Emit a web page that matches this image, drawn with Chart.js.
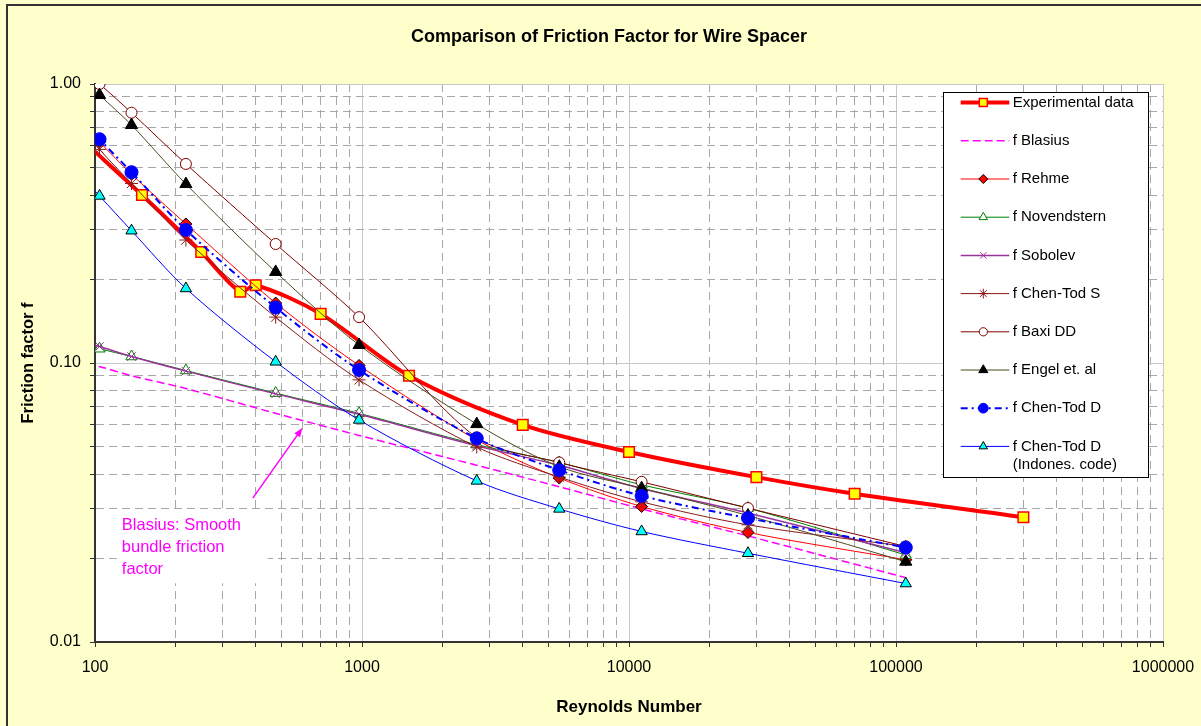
<!DOCTYPE html>
<html>
<head>
<meta charset="utf-8">
<title>Comparison of Friction Factor for Wire Spacer</title>
<script src="https://cdn.jsdelivr.net/npm/chart.js@4.4.1/dist/chart.umd.min.js"></script>
<style>
  html, body { margin: 0; padding: 0; background: #FFFFCC; }
  canvas { display: block; }
</style>
</head>
<body>
<canvas id="frictionChart" width="1201" height="726"></canvas>
<script>
// Reynolds numbers of the correlation curves (first one sits just left of the axis)
const modelRe = [93, 104, 137, 219, 475, 975, 2690, 5480, 11150, 27900, 108800];

// Measured points
const expRe = [93, 150, 250, 350, 400, 700, 1500, 4000, 10000, 30000, 70000, 300000];
const expF  = [0.61, 0.40, 0.25, 0.18, 0.19, 0.15, 0.09, 0.060, 0.048, 0.039, 0.034, 0.028];

// Correlations, friction factor at modelRe
const blasiusF     = [0.098, 0.097, 0.090, 0.081, 0.066, 0.055, 0.043, 0.036, 0.030, 0.024, 0.017];
const rehmeF       = [0.694, 0.620, 0.475, 0.315, 0.164, 0.098, 0.053, 0.0387, 0.0306, 0.0247, 0.0197];
const novendsternF = [0.116, 0.1125, 0.1055, 0.094, 0.078, 0.066, 0.051, 0.044, 0.0366, 0.0302, 0.0205];
const sobolevF     = [0.118, 0.1146, 0.1055, 0.0935, 0.0775, 0.0655, 0.0505, 0.043, 0.0355, 0.029, 0.0209];
const chenTodSF    = [0.675, 0.583, 0.44, 0.276, 0.146, 0.087, 0.050, 0.039, 0.0318, 0.0263, 0.022];
const baxiF        = [1.09, 1.00, 0.789, 0.517, 0.267, 0.146, 0.054, 0.044, 0.0375, 0.0302, 0.022];
const engelF       = [1.01, 0.913, 0.713, 0.438, 0.212, 0.116, 0.0604, 0.0425, 0.0356, 0.0284, 0.0194];
const chenTodDF    = [0.723, 0.634, 0.483, 0.300, 0.158, 0.0944, 0.0537, 0.0413, 0.0334, 0.0278, 0.0218];
const indonesF     = [0.445, 0.397, 0.298, 0.185, 0.101, 0.0625, 0.0378, 0.030, 0.0249, 0.0208, 0.0162];

// Axis decades and their labels
const xDecades = [100, 1000, 10000, 100000, 1000000];
const xTickLabels = ['100', '1000', '10000', '100000', '1000000'];
const yDecades = [0.01, 0.1, 1];
const yTickLabels = ['0.01', '0.10', '1.00'];

// Note with arrow pointing at the Blasius curve
const blasiusNote = ['Blasius: Smooth', 'bundle friction', 'factor'];
const blasiusNoteAt = { re: 126, f: 0.0262 };
const blasiusArrow = { fromRe: 390, fromF: 0.0328, toRe: 598, toF: 0.0585 };

const FONT = 'Arial, "Liberation Sans", sans-serif';

const series = [
  { text: ['Experimental data'], re: expRe, f: expF, color: '#FF0000', width: 4,
    style: 'rect', radius: 7.5, fill: '#FFFF00', edge: '#FF0000', edgeWidth: 1.5 },
  { text: ['f Blasius'], re: modelRe, f: blasiusF, color: '#FF00FF', width: 1.5, dash: [8, 4],
    style: 'circle', radius: 0 },
  { text: ['f Rehme'], re: modelRe, f: rehmeF, color: '#FF0000', width: 1,
    style: 'rectRot', radius: 6, fill: '#FF0000', edge: '#000000', edgeWidth: 1 },
  { text: ['f Novendstern'], re: modelRe, f: novendsternF, color: '#008000', width: 1,
    style: 'triangle', radius: 6.5, fill: '#FFFFFF', edge: '#008000', edgeWidth: 1 },
  { text: ['f Sobolev'], re: modelRe, f: sobolevF, color: '#993399', width: 1.5,
    style: 'crossRot', radius: 6, fill: '#993399', edge: '#993399', edgeWidth: 1 },
  { text: ['f Chen-Tod S'], re: modelRe, f: chenTodSF, color: '#8B1A1A', width: 1,
    style: 'star', radius: 6.5, fill: '#8B1A1A', edge: '#8B1A1A', edgeWidth: 1 },
  { text: ['f Baxi DD'], re: modelRe, f: baxiF, color: '#800000', width: 1,
    style: 'circle', radius: 5.5, fill: '#FFFFFF', edge: '#800000', edgeWidth: 1 },
  { text: ['f Engel et. al'], re: modelRe, f: engelF, color: '#4B4B1E', width: 1,
    style: 'triangle', radius: 7, fill: '#000000', edge: '#000000', edgeWidth: 1 },
  { text: ['f Chen-Tod D'], re: modelRe, f: chenTodDF, color: '#0000FF', width: 2, dash: [7, 4, 2, 4],
    style: 'circle', radius: 6.5, fill: '#0000FF', edge: '#0000FF', edgeWidth: 1 },
  { text: ['f Chen-Tod D', '(Indones. code)'], re: modelRe, f: indonesF, color: '#0000FF', width: 1,
    style: 'triangle', radius: 6.5, fill: '#00FFFF', edge: '#000000', edgeWidth: 1 }
];

function logTicks(decades) {
  const out = [];
  for (let i = 0; i < decades.length - 1; i++) {
    for (let k = 1; k <= 9; k++) out.push(+(decades[i] * k).toPrecision(6));
  }
  out.push(decades[decades.length - 1]);
  return out;
}
const xTicks = logTicks(xDecades);
const yTicks = logTicks(yDecades);

function decadeIndex(v, decades) {
  return decades.findIndex(d => Math.abs(v - d) / d < 1e-9);
}
function gridColor(ctx, decades) {
  if (!ctx.tick) return '#C0C0C0';
  return decadeIndex(ctx.tick.value, decades) >= 0 ? '#C8C8C8' : '#A8A8A8';
}
function gridDash(ctx, decades) {
  if (!ctx.tick) return [];
  return decadeIndex(ctx.tick.value, decades) >= 0 ? [] : [8, 5];
}
function noLabelPadding(s) {
  s.paddingLeft = 0;
  s.paddingRight = 0;
  s.paddingTop = 0;
  s.paddingBottom = 0;
}

const framePlugin = {
  id: 'frame',
  beforeDraw(chart) {
    const {ctx, chartArea, width, height} = chart;
    ctx.save();
    ctx.fillStyle = '#FFFFCC';
    ctx.fillRect(0, 0, width, height);
    ctx.fillStyle = '#FFFFFF';
    ctx.fillRect(chartArea.left, chartArea.top, chartArea.right - chartArea.left, chartArea.bottom - chartArea.top);
    ctx.strokeStyle = '#333333';
    ctx.lineWidth = 2;
    ctx.beginPath();
    ctx.moveTo(7, height);
    ctx.lineTo(7, 5);
    ctx.lineTo(width, 5);
    ctx.stroke();
    ctx.fillStyle = '#000000';
    ctx.font = 'bold 18px ' + FONT;
    ctx.textAlign = 'center';
    ctx.textBaseline = 'middle';
    ctx.fillText('Comparison of Friction Factor for Wire Spacer', 609, 37);
    ctx.restore();
  },
  afterDraw(chart) {
    const {ctx, chartArea, scales} = chart;
    ctx.save();

    // Blasius note
    const nx = scales.x.getPixelForValue(blasiusNoteAt.re);
    const ny = scales.y.getPixelForValue(blasiusNoteAt.f);
    ctx.fillStyle = '#FFFFFF';
    ctx.fillRect(nx - 5, ny - 14, 151, 72);
    ctx.fillStyle = '#FF00FF';
    ctx.font = '16.5px ' + FONT;
    ctx.textAlign = 'left';
    ctx.textBaseline = 'middle';
    blasiusNote.forEach((t, k) => ctx.fillText(t, nx, ny + k * 22.2));

    const ax = scales.x.getPixelForValue(blasiusArrow.fromRe);
    const ay = scales.y.getPixelForValue(blasiusArrow.fromF);
    const bx = scales.x.getPixelForValue(blasiusArrow.toRe);
    const by = scales.y.getPixelForValue(blasiusArrow.toF);
    const ang = Math.atan2(by - ay, bx - ax);
    ctx.strokeStyle = '#FF00FF';
    ctx.lineWidth = 1.5;
    ctx.beginPath();
    ctx.moveTo(ax, ay);
    ctx.lineTo(bx - 6 * Math.cos(ang), by - 6 * Math.sin(ang));
    ctx.stroke();
    ctx.beginPath();
    ctx.moveTo(bx, by);
    ctx.lineTo(bx - 9 * Math.cos(ang) + 3.5 * Math.sin(ang), by - 9 * Math.sin(ang) - 3.5 * Math.cos(ang));
    ctx.lineTo(bx - 9 * Math.cos(ang) - 3.5 * Math.sin(ang), by - 9 * Math.sin(ang) + 3.5 * Math.cos(ang));
    ctx.closePath();
    ctx.fillStyle = '#FF00FF';
    ctx.fill();

    // Legend box inside the plot area
    const left = chartArea.right - 220, top = chartArea.top + 8;
    ctx.fillStyle = '#FFFFFF';
    ctx.fillRect(left, top, 205, 385);
    ctx.strokeStyle = '#000000';
    ctx.lineWidth = 1;
    ctx.strokeRect(left + 0.5, top + 0.5, 205, 385);
    chart.data.datasets.forEach((ds, i) => {
      const y = top + 10.6 + i * 38.2;
      ctx.setLineDash(ds.borderDash || []);
      ctx.strokeStyle = ds.borderColor;
      ctx.lineWidth = ds.borderWidth;
      ctx.beginPath();
      ctx.moveTo(left + 17.7, y);
      ctx.lineTo(left + 66.3, y);
      ctx.stroke();
      ctx.setLineDash([]);
      if (ds.pointRadius > 0) {
        ctx.fillStyle = ds.pointBackgroundColor;
        ctx.strokeStyle = ds.pointBorderColor;
        ctx.lineWidth = ds.pointBorderWidth;
        Chart.helpers.drawPoint(ctx, {
          pointStyle: ds.pointStyle, radius: ds.pointRadius * 0.75, rotation: 0, borderWidth: ds.pointBorderWidth
        }, left + 40.3, y);
      }
      ctx.fillStyle = '#000000';
      ctx.font = '15px ' + FONT;
      ctx.textAlign = 'left';
      ctx.textBaseline = 'middle';
      series[i].text.forEach((t, k) => ctx.fillText(t, left + 69.7, y + k * 18.5));
    });
    ctx.restore();
  }
};

function drawChart() {
  const ctx = document.getElementById('frictionChart').getContext('2d');
  new Chart(ctx, {
    type: 'line',
    data: {
      datasets: series.map((s, i) => ({
        label: s.text.join(' '),
        data: s.re.map((re, j) => ({x: re, y: s.f[j]})),
        borderColor: s.color,
        borderWidth: s.width,
        borderDash: s.dash || [],
        pointStyle: s.style,
        pointRadius: s.radius,
        pointBackgroundColor: s.fill || s.color,
        pointBorderColor: s.edge || s.color,
        pointBorderWidth: s.edgeWidth || 1,
        tension: 0.3,
        fill: false,
        order: series.length - i
      }))
    },
    options: {
      responsive: false,
      animation: false,
      events: [],
      layout: { padding: { top: 84, right: 38, bottom: 0, left: 0 } },
      plugins: {
        legend: { display: false },
        tooltip: { enabled: false },
        title: { display: false }
      },
      scales: {
        x: {
          type: 'logarithmic',
          min: 100,
          max: 1000000,
          afterBuildTicks: s => { s.ticks = xTicks.map(v => ({value: v})); },
          afterFit: s => { s.height = 84; noLabelPadding(s); },
          ticks: {
            autoSkip: false, maxRotation: 0, padding: 11, color: '#000000',
            font: { family: FONT, size: 16 },
            callback: v => { const k = decadeIndex(v, xDecades); return k >= 0 ? xTickLabels[k] : ''; }
          },
          grid: {
            color: c => gridColor(c, xDecades), lineWidth: 1,
            tickLength: 5, tickColor: '#333333', tickWidth: 1, tickBorderDash: []
          },
          border: { display: true, color: '#333333', width: 2, dash: c => gridDash(c, xDecades) },
          title: {
            display: true, text: 'Reynolds Number', color: '#000000',
            font: { family: FONT, size: 17, weight: 'bold' }, padding: { top: 0, bottom: 8 }
          }
        },
        y: {
          type: 'logarithmic',
          min: 0.01,
          max: 1,
          afterBuildTicks: s => { s.ticks = yTicks.map(v => ({value: v})); },
          afterFit: s => { s.width = 95; noLabelPadding(s); },
          ticks: {
            autoSkip: false, padding: 9, color: '#000000',
            font: { family: FONT, size: 16 },
            callback: v => { const k = decadeIndex(v, yDecades); return k >= 0 ? yTickLabels[k] : ''; }
          },
          grid: {
            color: c => gridColor(c, yDecades), lineWidth: 1,
            tickLength: 5, tickColor: '#333333', tickWidth: 1, tickBorderDash: []
          },
          border: { display: true, color: '#333333', width: 2, dash: c => gridDash(c, yDecades) },
          title: {
            display: true, text: 'Friction factor f', color: '#000000',
            font: { family: FONT, size: 16.5, weight: 'bold' }, padding: { top: 19, bottom: 0 }
          }
        }
      }
    },
    plugins: [framePlugin]
  });
}

document.addEventListener('DOMContentLoaded', drawChart);
</script>
</body>
</html>
